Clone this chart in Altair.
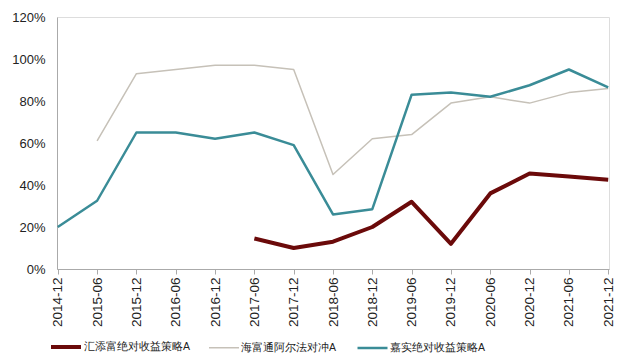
import altair as alt
import pandas as pd

dates = ["2014-12", "2015-06", "2015-12", "2016-06", "2016-12", "2017-06", "2017-12",
         "2018-06", "2018-12", "2019-06", "2019-12", "2020-06", "2020-12", "2021-06", "2021-12"]
huitianfu = [None, None, None, None, None, 14.5, 10.0, 13.0, 20.0, 32.0, 12.0, 36.0, 45.5, 44.0, 42.5]
haifutong = [None, 61.0, 93.0, 95.0, 97.0, 97.0, 95.0, 45.0, 62.0, 64.0, 79.0, 82.0, 79.0, 84.0, 86.0]
jiashi = [20.0, 32.5, 65.0, 65.0, 62.0, 65.0, 59.0, 26.0, 28.5, 83.0, 84.0, 82.0, 87.5, 95.0, 86.5]

series_names = ["汇添富绝对收益策略A", "海富通阿尔法对冲A", "嘉实绝对收益策略A"]
series_values = [huitianfu, haifutong, jiashi]
colors = ["#6B0A0A", "#C6C1B8", "#3A8C97"]
widths = [4.0, 1.5, 2.5]

rows = []
for name, vals in zip(series_names, series_values):
    for d, v in zip(dates, vals):
        if v is not None:
            rows.append({"date": d, "series": name, "value": v / 100.0})
df = pd.DataFrame(rows)

font = "Liberation Sans"

legend = alt.Legend(title=None, orient="none", direction="horizontal",
                    legendX=-8, legendY=313, symbolType="stroke",
                    symbolSize=900, columnPadding=15, labelFontSize=10.5,
                    labelFont=font, labelColor="#222", labelOffset=1)

chart = alt.Chart(df).mark_line(strokeJoin="round", strokeCap="butt").encode(
    x=alt.X("date:O", sort=dates, scale=alt.Scale(domain=dates, type="point", padding=0.02),
            axis=alt.Axis(title=None, labelAngle=-90, labelFontSize=13.5, labelColor="#222",
                          labelFont=font, domainColor="#AAAAAA", tickColor="#AAAAAA",
                          tickSize=5, labelPadding=3, grid=False)),
    y=alt.Y("value:Q", scale=alt.Scale(domain=[0, 1.2], nice=False),
            axis=alt.Axis(title=None, format=".0%", values=[0, 0.2, 0.4, 0.6, 0.8, 1.0, 1.2],
                          labelFontSize=13, labelColor="#222", labelFont=font,
                          domainColor="#AAAAAA", ticks=False, grid=False, labelPadding=12)),
    color=alt.Color("series:N", scale=alt.Scale(domain=series_names, range=colors),
                    legend=legend),
    strokeWidth=alt.StrokeWidth("series:N",
                                scale=alt.Scale(type="ordinal", domain=series_names, range=widths),
                                legend=legend),
).properties(
    width=552,
    height=252,
    autosize=alt.AutoSizeParams(type="none"),
    padding={"left": 49, "top": 9, "right": 23, "bottom": 87},
).configure_view(stroke=None).configure(background="white")

chart.save("out.html", embed_options={"renderer": "svg", "actions": False})
